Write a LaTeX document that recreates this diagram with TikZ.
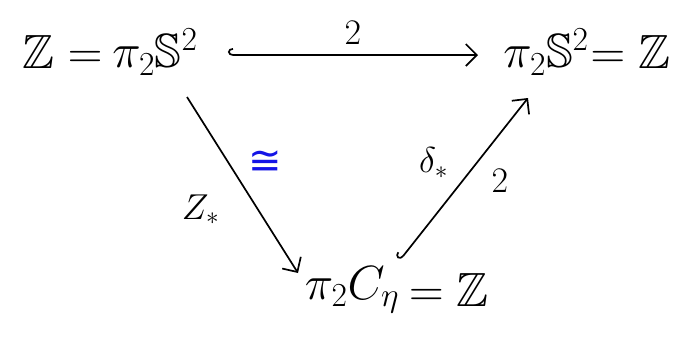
\RequirePackage{fix-cm}
\documentclass[tikz,border=0pt]{standalone}
\usepackage{amssymb}
\usepackage{fontspec}
\newfontfamily\symfont{DejaVu Sans}
\usetikzlibrary{arrows.meta}
\tikzset{
  big/.style={font=\fontsize{48}{56}\selectfont, inner sep=0pt, outer sep=0pt},
  lab/.style={font=\fontsize{36}{42}\selectfont, inner sep=0pt},
  arr/.style={line width=1.7pt, -{Straight Barb[length=11pt,width=22pt,line width=1.7pt]}},
  hookarr/.style={line width=1.7pt, {Hooks[right,length=5pt,width=14pt,line width=1.7pt]}-{Straight Barb[length=11pt,width=22pt,line width=1.7pt]}},
}
\definecolor{penblue}{RGB}{20,20,230}
\begin{document}
\begin{tikzpicture}[x=1pt,y=-1pt]
\useasboundingbox (0,0) rectangle (686,349);
% top left
\node[big] (s1) at (155,52) {$\pi_2\mathbb{S}^2$};
\node[big, anchor=east] (z1) at ([xshift=-10pt]s1.west) {$\mathbb{Z}=$};
% top right
\node[big] (s2) at (546,52) {$\pi_2\mathbb{S}^2$};
\node[big, anchor=west] (z2) at ([xshift=2pt]s2.east) {$=\mathbb{Z}$};
% bottom
\node[big] (c) at (352,290) {$\pi_2 C_\eta$};
\node[big, anchor=west] (z3) at ([xshift=10pt]c.east) {$=\mathbb{Z}$};
% arrows
\draw[hookarr] ([shift={(73,3)}]s1.center) -- node[lab, above=10pt] {$2$} ([shift={(-68,3)}]s2.center);
\draw[arr] ([shift={(32,45)}]s1.center) -- node[lab, pos=0.64, left=38pt] {$Z_*$} node[pos=0.37, right=20pt, inner sep=0pt, text=penblue, font=\fontsize{40}{46}\selectfont\symfont] {≅} ([shift={(-54,-17)}]c.center);
\draw[hookarr] ([shift={(48,-30)}]c.center) -- node[lab, pos=0.6, left=28pt] {$\delta_*$} node[lab, pos=0.49, right=28pt] {$2$} ([shift={(-18,46)}]s2.center);
\end{tikzpicture}
\end{document}
